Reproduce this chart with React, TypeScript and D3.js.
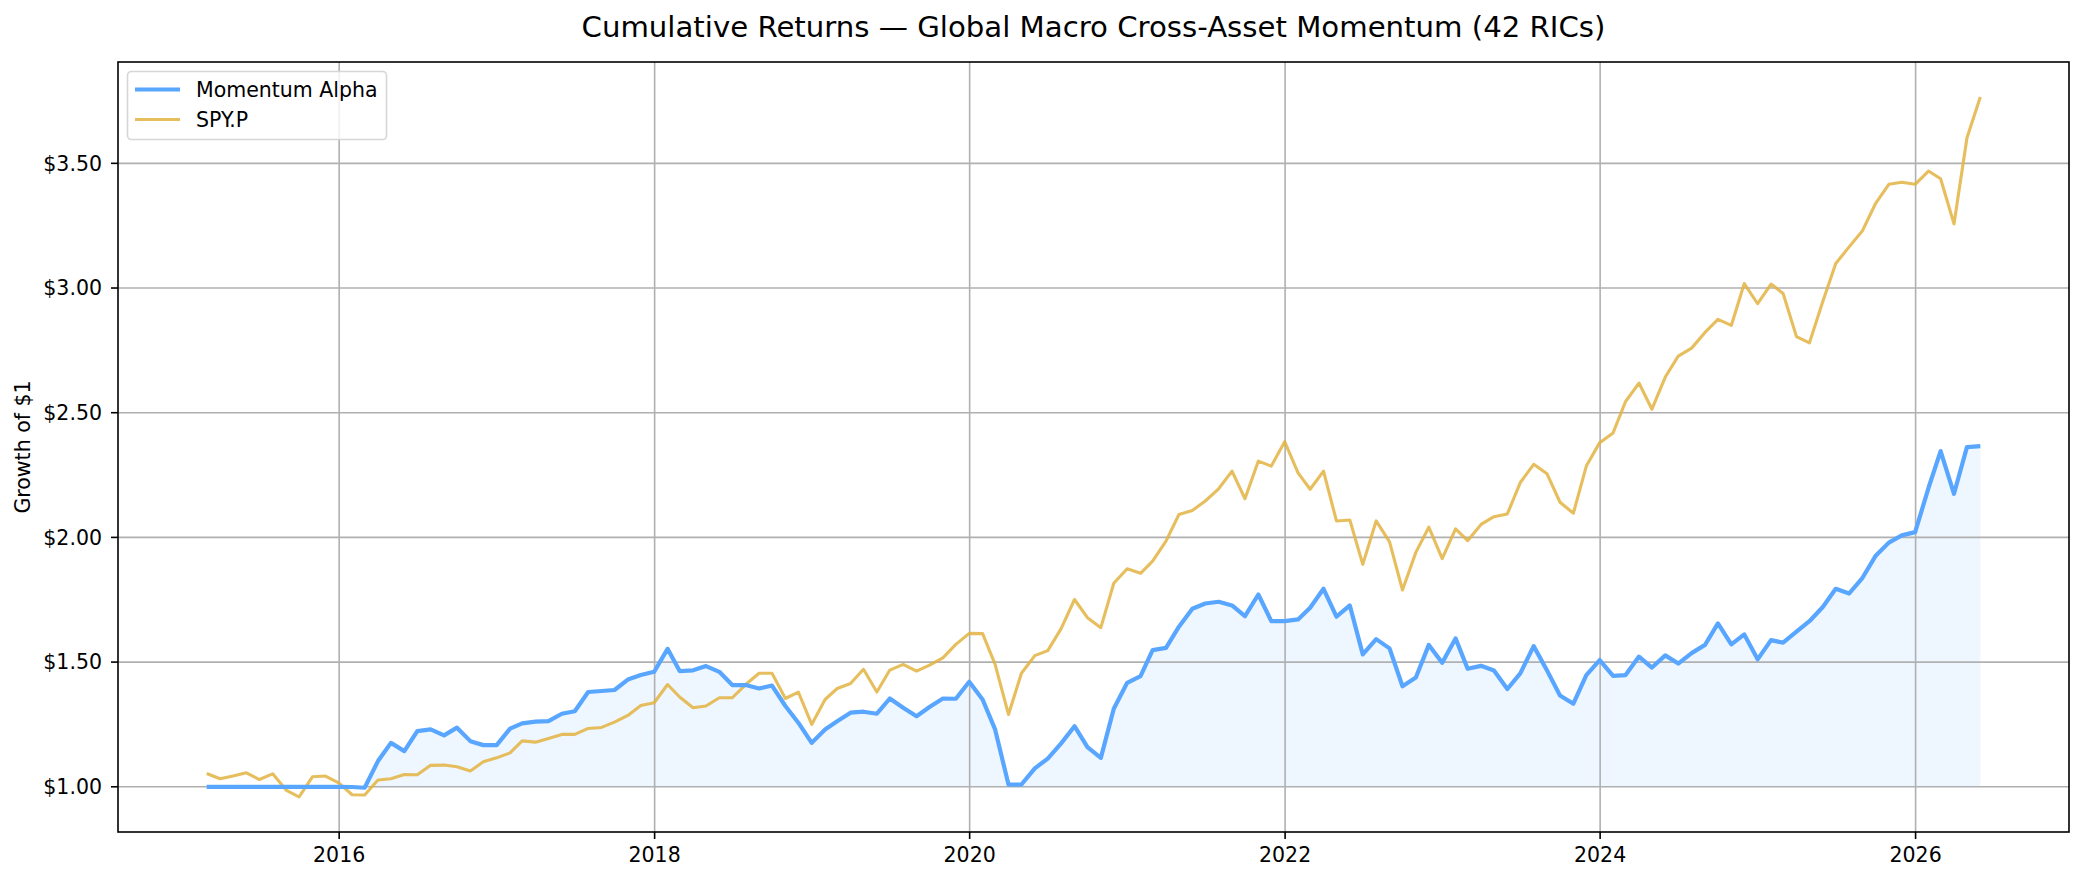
import * as d3 from "d3";
import { useEffect, useRef } from "react";

// monthly closes, month-end, starting Feb 2015
const FIRST_MONTH_END = { year: 2015, month: 2 };

const momentumAlpha = [
  1.0, 1.0, 1.0, 1.0, 1.0, 1.0, 1.0, 1.0, 1.0, 1.0, 1.0, 0.999, 0.996,
  1.103, 1.176, 1.143, 1.223, 1.23, 1.206, 1.237, 1.183, 1.167, 1.167, 1.233,
  1.254, 1.261, 1.263, 1.293, 1.303, 1.38, 1.384, 1.388, 1.43, 1.448, 1.461,
  1.553, 1.464, 1.467, 1.484, 1.461, 1.408, 1.408, 1.394, 1.406, 1.324, 1.257,
  1.176, 1.23, 1.263, 1.297, 1.301, 1.293, 1.354, 1.317, 1.283, 1.32, 1.354,
  1.353, 1.421, 1.35, 1.23, 1.009, 1.009, 1.074, 1.113, 1.174, 1.243, 1.159,
  1.116, 1.313, 1.417, 1.444, 1.548, 1.557, 1.642, 1.714, 1.735, 1.742, 1.727,
  1.684, 1.771, 1.664, 1.664, 1.671, 1.718, 1.794, 1.682, 1.727, 1.531, 1.592,
  1.555, 1.403, 1.438, 1.569, 1.497, 1.595, 1.473, 1.485, 1.466, 1.392, 1.455,
  1.564, 1.466, 1.366, 1.333, 1.448, 1.508, 1.445, 1.448, 1.522, 1.478, 1.527,
  1.494, 1.536, 1.569, 1.655, 1.571, 1.611, 1.511, 1.588, 1.578, 1.622, 1.664,
  1.721, 1.794, 1.775, 1.838, 1.925, 1.979, 2.008, 2.021, 2.199, 2.346, 2.175,
  2.362, 2.366,
];

const spyP = [
  1.053, 1.032, 1.043, 1.056, 1.029, 1.052, 0.987, 0.959, 1.04, 1.043, 1.016,
  0.968, 0.967, 1.027, 1.032, 1.049, 1.048, 1.086, 1.087, 1.08, 1.063, 1.1,
  1.116, 1.136, 1.184, 1.179, 1.194, 1.21, 1.21, 1.234, 1.238, 1.259, 1.286,
  1.326, 1.337, 1.41, 1.36, 1.317, 1.324, 1.357, 1.357, 1.41, 1.455, 1.455,
  1.354, 1.38, 1.25, 1.35, 1.394, 1.414, 1.471, 1.38, 1.468, 1.491, 1.464,
  1.488, 1.517, 1.571, 1.615, 1.614, 1.491, 1.29, 1.455, 1.526, 1.546, 1.634,
  1.751, 1.678, 1.638, 1.816, 1.874, 1.856, 1.905, 1.985, 2.092, 2.108, 2.146,
  2.195, 2.266, 2.155, 2.306, 2.286, 2.384, 2.259, 2.193, 2.266, 2.066, 2.07,
  1.892, 2.066, 1.982, 1.789, 1.94, 2.041, 1.915, 2.034, 1.987, 2.052, 2.083,
  2.094, 2.22, 2.293, 2.255, 2.141, 2.097, 2.286, 2.38, 2.419, 2.545, 2.619,
  2.514, 2.643, 2.727, 2.759, 2.822, 2.874, 2.85, 3.018, 2.937, 3.016, 2.978,
  2.805, 2.78, 2.946, 3.098, 3.165, 3.23, 3.338, 3.416, 3.424, 3.416, 3.469,
  3.438, 3.257, 3.602, 3.766,
];

const seriesNames = ["Momentum Alpha", "SPY.P"];
const yTicks = [1.0, 1.5, 2.0, 2.5, 3.0, 3.5];
const xTickYears = [2016, 2018, 2020, 2022, 2024, 2026];
const title = "Cumulative Returns \u2014 Global Macro Cross-Asset Momentum (42 RICs)";
const yLabel = "Growth of $1";

const W = 2084;
const H = 883;
const plot = { left: 118, right: 2069, top: 62, bottom: 832 };
const BLUE = "#58a6ff";
const GOLD = "#e3b341";
const FONT = "'DejaVu Sans', sans-serif";

export default function App() {
  const ref = useRef<SVGSVGElement | null>(null);

  useEffect(() => {
    const el = ref.current;
    if (!el) return;
    const svg = d3.select(el);
    svg.selectAll("*").remove();

    const base = new Date(Date.UTC(FIRST_MONTH_END.year, FIRST_MONTH_END.month, 1));
    const dates = momentumAlpha.map((_, i) => d3.utcDay.offset(d3.utcMonth.offset(base, i), -1));
    const rows = dates.map((d, i) => ({ date: d, alpha: momentumAlpha[i], spy: spyP[i] }));

    const [t0, t1] = d3.extent(dates) as [Date, Date];
    const tPad = (+t1 - +t0) * 0.05;
    const x = d3
      .scaleUtc()
      .domain([new Date(+t0 - tPad), new Date(+t1 + tPad)])
      .range([plot.left, plot.right]);

    const all = [...momentumAlpha, ...spyP];
    const lo = d3.min(all) as number;
    const hi = d3.max(all) as number;
    const vPad = (hi - lo) * 0.05;
    const y = d3
      .scaleLinear()
      .domain([lo - vPad, hi + vPad])
      .range([plot.bottom, plot.top]);

    svg.append("rect").attr("width", W).attr("height", H).attr("fill", "#fff");

    // fill between alpha and the $1 line
    const area = d3
      .area<(typeof rows)[number]>()
      .x((d) => x(d.date))
      .y0(() => y(1))
      .y1((d) => y(d.alpha));
    svg.append("path").datum(rows).attr("d", area).attr("fill", BLUE).attr("fill-opacity", 0.1);

    // grid
    const grid = svg.append("g").attr("stroke", "#b0b0b0").attr("stroke-width", 1.6);
    xTickYears.forEach((yr) => {
      const px = x(new Date(Date.UTC(yr, 0, 1)));
      grid.append("line").attr("x1", px).attr("x2", px).attr("y1", plot.top).attr("y2", plot.bottom);
    });
    yTicks.forEach((v) => {
      grid.append("line").attr("x1", plot.left).attr("x2", plot.right).attr("y1", y(v)).attr("y2", y(v));
    });

    const line = (key: "alpha" | "spy") =>
      d3
        .line<(typeof rows)[number]>()
        .x((d) => x(d.date))
        .y((d) => y(d[key]));

    svg
      .append("path")
      .datum(rows)
      .attr("d", line("spy"))
      .attr("fill", "none")
      .attr("stroke", GOLD)
      .attr("stroke-opacity", 0.85)
      .attr("stroke-width", 3.1)
      .attr("stroke-linejoin", "round");

    svg
      .append("path")
      .datum(rows)
      .attr("d", line("alpha"))
      .attr("fill", "none")
      .attr("stroke", BLUE)
      .attr("stroke-width", 4.2)
      .attr("stroke-linejoin", "round");

    // spines
    svg
      .append("rect")
      .attr("x", plot.left)
      .attr("y", plot.top)
      .attr("width", plot.right - plot.left)
      .attr("height", plot.bottom - plot.top)
      .attr("fill", "none")
      .attr("stroke", "#000")
      .attr("stroke-width", 1.6);

    // x ticks
    const xAxis = svg.append("g");
    xTickYears.forEach((yr) => {
      const px = x(new Date(Date.UTC(yr, 0, 1)));
      xAxis.append("line").attr("x1", px).attr("x2", px).attr("y1", plot.bottom).attr("y2", plot.bottom + 7).attr("stroke", "#000").attr("stroke-width", 1.6);
      xAxis
        .append("text")
        .attr("x", px)
        .attr("y", plot.bottom + 30)
        .attr("text-anchor", "middle")
        .attr("font-family", FONT)
        .attr("font-size", 20.5)
        .attr("fill", "#000")
        .text(String(yr));
    });

    // y ticks
    const yAxis = svg.append("g");
    yTicks.forEach((v) => {
      const py = y(v);
      yAxis.append("line").attr("x1", plot.left - 7).attr("x2", plot.left).attr("y1", py).attr("y2", py).attr("stroke", "#000").attr("stroke-width", 1.6);
      yAxis
        .append("text")
        .attr("x", plot.left - 16)
        .attr("y", py)
        .attr("dy", "0.36em")
        .attr("text-anchor", "end")
        .attr("font-family", FONT)
        .attr("font-size", 20.5)
        .attr("fill", "#000")
        .text(`$${v.toFixed(2)}`);
    });

    svg
      .append("text")
      .attr("transform", `translate(30, ${(plot.top + plot.bottom) / 2}) rotate(-90)`)
      .attr("text-anchor", "middle")
      .attr("font-family", FONT)
      .attr("font-size", 20.5)
      .attr("fill", "#000")
      .text(yLabel);

    svg
      .append("text")
      .attr("x", (plot.left + plot.right) / 2)
      .attr("y", 37)
      .attr("text-anchor", "middle")
      .attr("font-family", FONT)
      .attr("font-size", 29.2)
      .attr("fill", "#000")
      .text(title);

    // legend
    const lg = svg.append("g");
    lg.append("rect")
      .attr("x", 127.5)
      .attr("y", 71.5)
      .attr("width", 259)
      .attr("height", 68)
      .attr("rx", 4)
      .attr("fill", "#fff")
      .attr("fill-opacity", 0.8)
      .attr("stroke", "#d6d6d6")
      .attr("stroke-width", 1.6);
    const styles = [
      { color: BLUE, width: 4.2, opacity: 1 },
      { color: GOLD, width: 3.1, opacity: 0.85 },
    ];
    seriesNames.forEach((name, i) => {
      const cy = 89.5 + i * 30;
      lg.append("line")
        .attr("x1", 135)
        .attr("x2", 180)
        .attr("y1", cy)
        .attr("y2", cy)
        .attr("stroke", styles[i].color)
        .attr("stroke-opacity", styles[i].opacity)
        .attr("stroke-width", styles[i].width);
      lg.append("text")
        .attr("x", 196)
        .attr("y", cy + 7.5)
        .attr("font-family", FONT)
        .attr("font-size", 20.5)
        .attr("fill", "#000")
        .text(name);
    });
  }, []);

  return (
    <div style={{ position: "absolute", left: 0, top: 0, width: W, height: H }}>
      <svg ref={ref} width={W} height={H} style={{ display: "block" }} />
    </div>
  );
}
